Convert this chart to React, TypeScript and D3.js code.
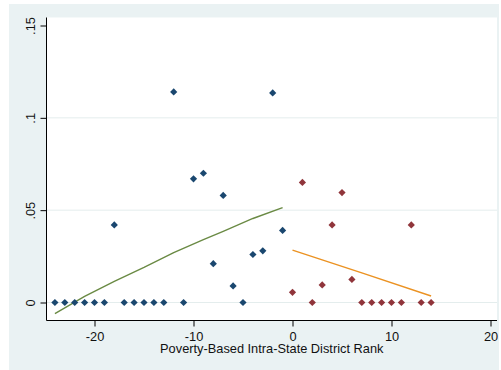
import React, { useEffect, useRef } from 'react';
import * as d3 from 'd3';

// district rank (x) and share (y), below-median states in blue, above in red
const blueRank = [-24, -23, -22, -21, -20, -19, -18, -17, -16, -15, -14, -13, -12, -11, -10, -9, -8, -7, -6, -5, -4, -3, -2, -1];
const blueShare = [0, 0, 0, 0, 0, 0, 0.042, 0, 0, 0, 0, 0, 0.114, 0, 0.067, 0.07, 0.021, 0.058, 0.009, 0, 0.026, 0.028, 0.1135, 0.039];

const redRank = [0, 1, 2, 3, 4, 5, 6, 7, 8, 9, 10, 11, 12, 13, 14];
const redShare = [0.0055, 0.065, 0, 0.0095, 0.042, 0.0595, 0.0125, 0, 0, 0, 0, 0, 0.042, 0, 0];

// fitted lines
const greenRank = [-24, -21, -18, -15, -12, -9, -7, -4, -1];
const greenFit = [-0.006, 0.0033, 0.0115, 0.019, 0.027, 0.034, 0.0385, 0.0455, 0.0514];
const orangeRank = [0, 7, 14];
const orangeFit = [0.0284, 0.016, 0.0035];

const xTicks = [-20, -10, 0, 10, 20];
const yTicks = [0, 0.05, 0.1, 0.15];
const yGrid = [0, 0.05, 0.1];
const xTitle = 'Poverty-Based Intra-State District Rank';

const App = () => {
    const chartRef = useRef<SVGSVGElement | null>(null);

    useEffect(() => {
        if (chartRef.current) {
            drawChart();
        }
    }, []);

    const drawChart = () => {
        const svg = d3.select(chartRef.current);
        svg.selectAll('*').remove();

        const left = 46.5;
        const right = 497;
        const top = 17.5;
        const bottom = 320.5;
        const font = '"Liberation Sans", Arial, sans-serif';

        const x = d3.scaleLinear().domain([-20, 20]).range([94.5, 490.5]);
        const y = d3.scaleLinear().domain([0, 0.15]).range([302.5, 25.5]);

        svg.append('rect')
            .attr('x', 9).attr('y', 4)
            .attr('width', 490).attr('height', 366)
            .attr('fill', '#eaf2f3');

        svg.append('rect')
            .attr('x', left).attr('y', top)
            .attr('width', right - left).attr('height', bottom - top)
            .attr('fill', '#ffffff');

        svg.append('g')
            .selectAll('line')
            .data(yGrid)
            .enter()
            .append('line')
            .attr('x1', left).attr('x2', right)
            .attr('y1', d => y(d)).attr('y2', d => y(d))
            .attr('stroke', '#e4eded')
            .attr('stroke-width', 1);

        // y axis
        const yAxis = svg.append('g')
            .attr('transform', `translate(${left},0)`)
            .call(d3.axisLeft(y).tickValues(yTicks).tickSize(6)
                .tickFormat(d => (+d === 0 ? '0' : String(+d).replace(/^0/, ''))));
        yAxis.select('.domain').remove();
        yAxis.append('line')
            .attr('x1', 0).attr('x2', 0).attr('y1', top).attr('y2', bottom)
            .attr('stroke', '#000');
        yAxis.selectAll('.tick line').attr('stroke', '#000');
        yAxis.selectAll('.tick text')
            .attr('transform', 'rotate(-90)')
            .attr('x', 0).attr('y', -11.5).attr('dy', 0)
            .attr('text-anchor', 'middle')
            .attr('fill', '#111')
            .style('font-family', font)
            .style('font-size', '12.8px');

        // x axis
        const xAxis = svg.append('g')
            .attr('transform', `translate(0,${bottom})`)
            .call(d3.axisBottom(x).tickValues(xTicks).tickSize(6).tickFormat(d => String(d)));
        xAxis.select('.domain').remove();
        xAxis.append('line')
            .attr('x1', left).attr('x2', right).attr('y1', 0).attr('y2', 0)
            .attr('stroke', '#000');
        xAxis.selectAll('.tick line').attr('stroke', '#000');
        xAxis.selectAll('.tick text')
            .attr('y', 20.5).attr('dy', 0)
            .attr('fill', '#111')
            .style('font-family', font)
            .style('font-size', '12.8px');

        svg.append('text')
            .attr('x', (left + right) / 2)
            .attr('y', 352.5)
            .attr('text-anchor', 'middle')
            .attr('fill', '#111')
            .style('font-family', font)
            .style('font-size', '12.8px')
            .text(xTitle);

        const line = d3.line<[number, number]>()
            .x(d => x(d[0]))
            .y(d => y(d[1]));

        svg.append('path')
            .attr('d', line(greenRank.map((r, i) => [r, greenFit[i]] as [number, number])))
            .attr('fill', 'none')
            .attr('stroke', '#6a8a44')
            .attr('stroke-width', 1.4);

        svg.append('path')
            .attr('d', line(orangeRank.map((r, i) => [r, orangeFit[i]] as [number, number])))
            .attr('fill', 'none')
            .attr('stroke', '#eb9222')
            .attr('stroke-width', 1.4);

        const diamond = d3.symbol().type(d3.symbolSquare).size(26);

        svg.append('g')
            .selectAll('path')
            .data(blueRank)
            .enter()
            .append('path')
            .attr('d', diamond)
            .attr('transform', (d, i) => `translate(${x(d)},${y(blueShare[i])}) rotate(45)`)
            .attr('fill', '#1a476f');

        svg.append('g')
            .selectAll('path')
            .data(redRank)
            .enter()
            .append('path')
            .attr('d', diamond)
            .attr('transform', (d, i) => `translate(${x(d)},${y(redShare[i])}) rotate(45)`)
            .attr('fill', '#90353b');
    };

    return (
        <svg
            ref={chartRef}
            width="501"
            height="370"
            style={{ position: 'absolute', left: 0, top: 0, background: '#ffffff' }}
        />
    );
};

export default App;
